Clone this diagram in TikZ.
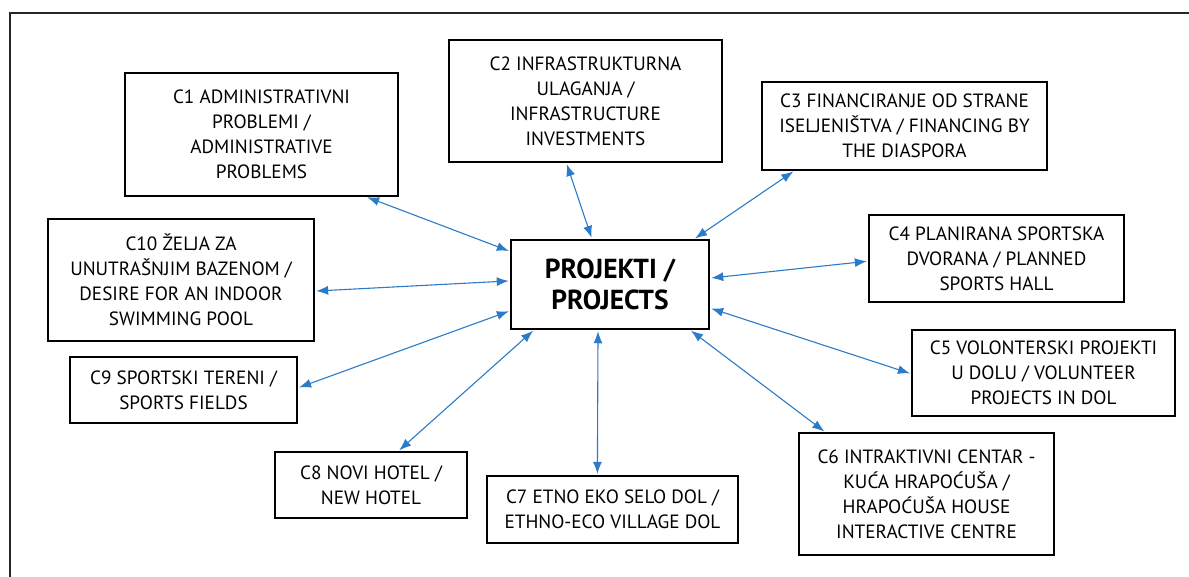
\documentclass[tikz,border=0pt]{standalone}
\usepackage{fontspec}
\setmainfont{PT Sans}
\usetikzlibrary{arrows.meta,calc}
\definecolor{arrowblue}{HTML}{2B7BC8}
\tikzset{
  box/.style={draw=black, line width=1.3pt, rectangle, align=center, inner sep=0pt,
    font=\fontsize{19.2}{25}\selectfont},
  mainbox/.style={draw=black, line width=1.5pt, rectangle, align=center, inner sep=0pt,
    font=\fontsize{27.5}{31}\selectfont\bfseries},
  link/.style={draw=arrowblue, line width=1.1pt, {Latex[length=12pt,width=9pt]}-{Latex[length=12pt,width=9pt]}, shorten <=1.5pt, shorten >=1.5pt},
}
\begin{document}
\begin{tikzpicture}[x=1pt,y=-1pt]
\useasboundingbox (0,0) rectangle (1189,577);
\coordinate (fa) at (10,577);
\coordinate (fb) at (10,13);
\coordinate (fc) at (1189,13);
\draw[line width=1.5pt, black!85] (fa) -- (fb) -- (fc);

\node[mainbox, minimum width=198pt, minimum height=89pt] (p) at (610,284.5) {PROJEKTI /\\PROJECTS};

\node[box, minimum width=273pt, minimum height=123pt] (c1) at (261.5,134.5) {C1 ADMINISTRATIVNI\\PROBLEMI /\\ADMINISTRATIVE\\PROBLEMS};
\node[box, minimum width=273pt, minimum height=122pt] (c2) at (585.5,101) {C2 INFRASTRUKTURNA\\ULAGANJA /\\INFRASTRUCTURE\\INVESTMENTS};
\node[box, minimum width=285pt, minimum height=88pt] (c3) at (904.5,126) {C3 FINANCIRANJE OD STRANE\\ISELJENIŠTVA / FINANCING BY\\THE DIASPORA};
\node[box, minimum width=255pt, minimum height=87pt] (c4) at (996.5,258.5) {C4 PLANIRANA SPORTSKA\\DVORANA / PLANNED\\SPORTS HALL};
\node[box, minimum width=263pt, minimum height=86pt] (c5) at (1043.5,373) {C5 VOLONTERSKI PROJEKTI\\U DOLU / VOLUNTEER\\PROJECTS IN DOL};
\node[box, minimum width=255pt, minimum height=122pt] (c6) at (926.5,494) {C6 INTRAKTIVNI CENTAR -\\KUĆA HRAPOĆUŠA /\\HRAPOĆUŠA HOUSE\\INTERACTIVE CENTRE};
\node[box, minimum width=251pt, minimum height=67pt] (c7) at (612.5,509.5) {C7 ETNO EKO SELO DOL /\\ETHNO-ECO VILLAGE DOL};
\node[box, minimum width=192pt, minimum height=66pt] (c8) at (371,485) {C8 NOVI HOTEL /\\NEW HOTEL};
\node[box, minimum width=227pt, minimum height=66pt] (c9) at (183.5,390) {C9 SPORTSKI TERENI /\\SPORTS FIELDS};
\node[box, minimum width=266pt, minimum height=122pt] (c10) at (181,280) {C10 ŽELJA ZA\\UNUTRAŠNJIM BAZENOM /\\DESIRE FOR AN INDOOR\\SWIMMING POOL};

\draw[link] ($(c1.south west)!0.88!(c1.south east)$) -- ($(p.north west)!0.135!(p.south west)$);
\draw[link] ($(c2.south west)!0.43!(c2.south east)$) -- ($(p.north west)!0.41!(p.north east)$);
\draw[link] ($(c3.south west)!0.116!(c3.south east)$) -- ($(p.north west)!0.92!(p.north east)$);
\draw[link] ($(c4.north west)!0.53!(c4.south west)$) -- ($(p.north east)!0.43!(p.south east)$);
\draw[link] ($(c5.north west)!0.51!(c5.south west)$) -- ($(p.north east)!0.76!(p.south east)$);
\draw[link] ($(c6.north west)!0.106!(c6.north east)$) -- ($(p.south west)!0.90!(p.south east)$);
\draw[link] ($(c7.north west)!0.44!(c7.north east)$) -- ($(p.south west)!0.44!(p.south east)$);
\draw[link] ($(c8.north west)!0.64!(c8.north east)$) -- ($(p.south west)!0.12!(p.south east)$);
\draw[link] ($(c9.north east)!0.47!(c9.south east)$) -- ($(p.north west)!0.79!(p.south west)$);
\draw[link] ($(c10.north east)!0.59!(c10.south east)$) -- ($(p.north west)!0.46!(p.south west)$);
\end{tikzpicture}
\end{document}
